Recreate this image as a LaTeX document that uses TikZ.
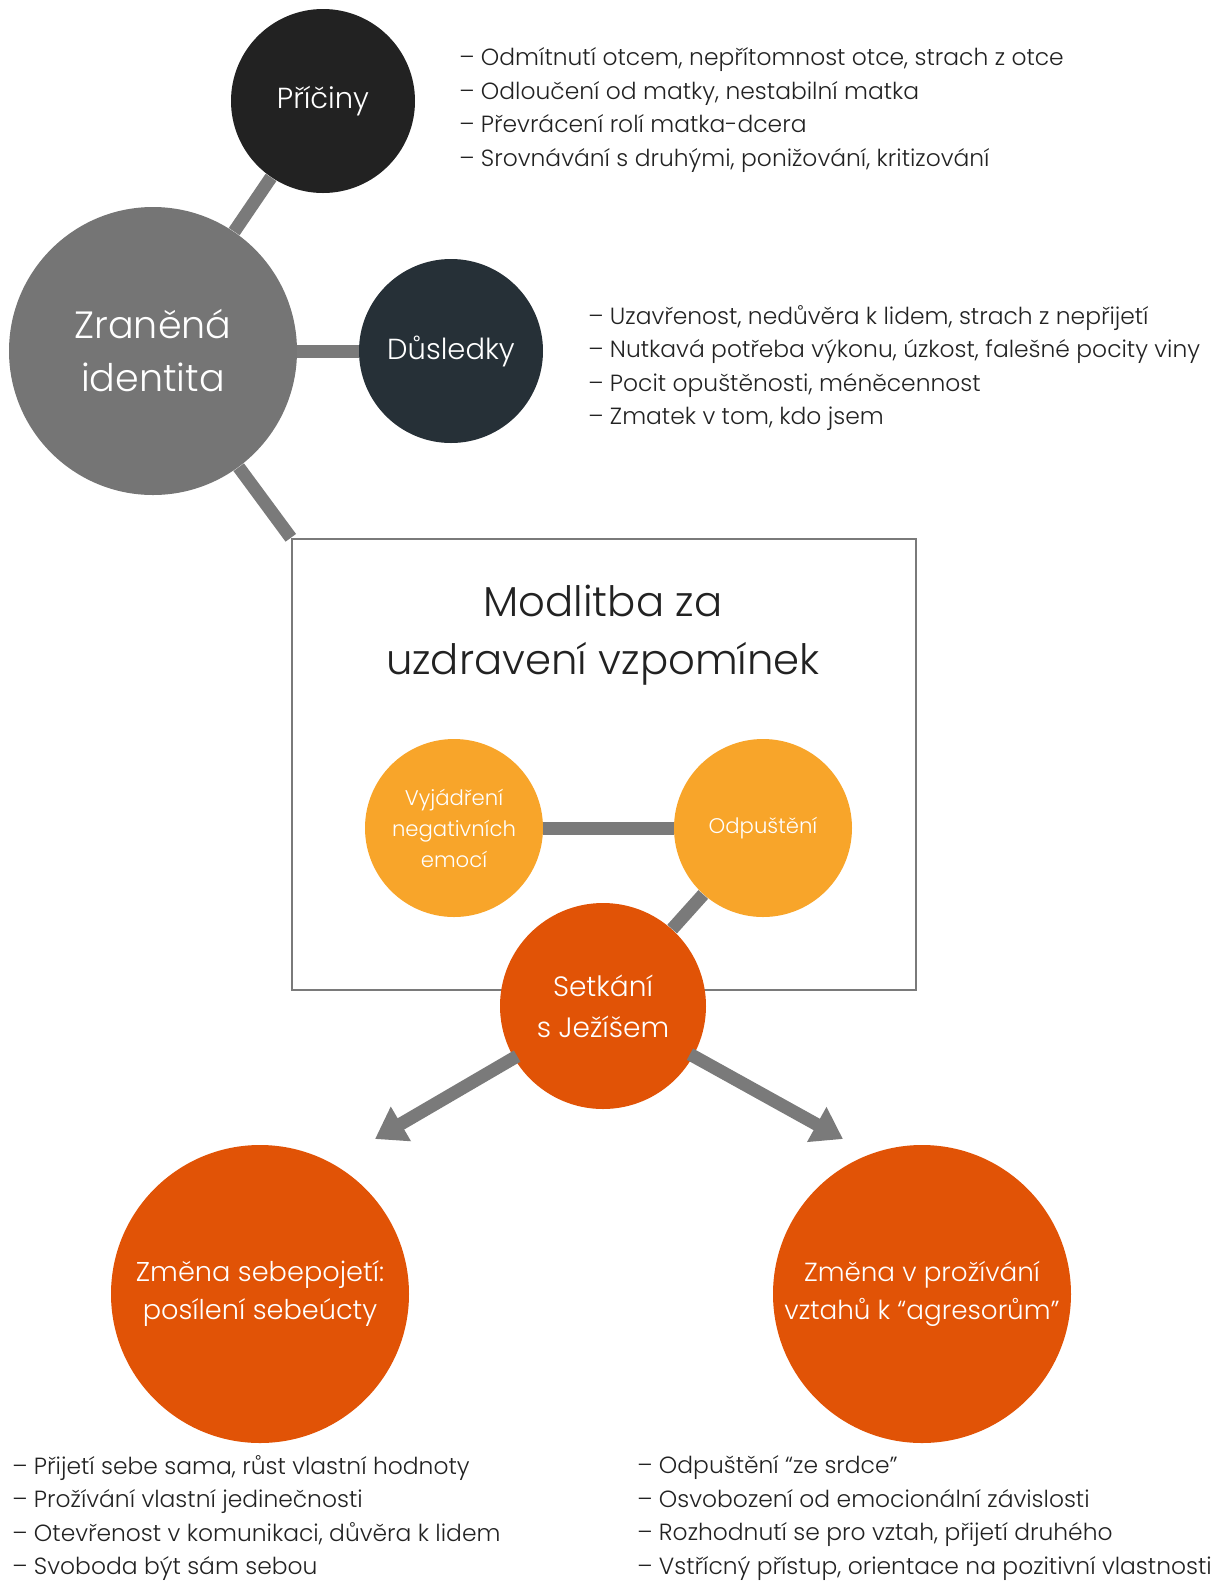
\documentclass[tikz,border=0pt]{standalone}
\usepackage{fontspec}
\setmainfont{Poppins}[UprightFont=* Light]
\usetikzlibrary{arrows.meta}
\definecolor{sedy}{HTML}{757575}
\definecolor{spojc}{HTML}{7A7A7A}
\definecolor{cerna}{HTML}{222222}
\definecolor{bridlice}{HTML}{263037}
\definecolor{zluta}{HTML}{F8A52A}
\definecolor{oranz}{HTML}{E15306}
\tikzset{>=Stealth,
 kruh/.style={circle,inner sep=0pt,align=center,text=white},
 spoj/.style={line width=6.5pt,draw=spojc},
 sip/.style={spoj,shorten <=-2pt,-{Triangle[length=15pt,width=19pt]}},
 ramec/.style={draw=spojc,line width=1.2pt,inner sep=0pt},
 seznam/.style={anchor=west,align=left,inner sep=0pt,text=cerna,font=\fontsize{11.7}{16.8}\selectfont}}

\begin{document}
\begin{tikzpicture}[x=0.5pt,y=-0.5pt]
\useasboundingbox (0,0) rectangle (1222,1581);
% uzly
\node[ramec,minimum width=312pt,minimum height=225.5pt] (modl) at (604,764.5) {};
\node[align=center,text=cerna,font=\fontsize{20.9}{29}\selectfont] (nadpis) at (603,635) {Modlitba za\\uzdravení vzpomínek};
\node[kruh,fill=sedy,minimum size=144pt,font=\fontsize{19}{26.5}\selectfont] (zran) at (153,351) {Zraněná\\identita};
\node[kruh,fill=cerna,minimum size=92pt,font=\fontsize{14.5}{18}\selectfont] (pric) at (323,101) {Příčiny};
\node[kruh,fill=bridlice,minimum size=92pt,font=\fontsize{14.5}{18}\selectfont] (dusl) at (451,351) {Důsledky};
\node[kruh,fill=zluta,minimum size=89pt,font=\fontsize{10.6}{15.5}\selectfont] (vyj) at (454,828) {Vyjádření\\negativních\\emocí};
\node[kruh,fill=zluta,minimum size=89pt,font=\fontsize{10.6}{15.5}\selectfont] (odp) at (763,828) {Odpuštění};
\node[kruh,fill=oranz,minimum size=103pt,font=\fontsize{14}{20.5}\selectfont] (setk) at (603,1006) {Setkání\\s Ježíšem};
\node[kruh,fill=oranz,minimum size=149pt,font=\fontsize{13.6}{19}\selectfont] (zmsebe) at (260,1294) {Změna sebepojetí:\\posílení sebeúcty};
\node[kruh,fill=oranz,minimum size=149pt,font=\fontsize{13.1}{19}\selectfont] (zmvzt) at (922,1294) {Změna v prožívání\\vztahů k “agresorům”};
\coordinate (hrotL) at (375,1139);
\coordinate (hrotP) at (843,1139);
% spoje
\draw[spoj] (zran) -- (pric);
\draw[spoj] (zran) -- (dusl);
\draw[spoj] (zran) -- (modl.north west);
\draw[spoj] (vyj) -- (odp);
\draw[spoj] (odp) -- (setk);
\draw[sip] (setk) -- (hrotL);
\draw[sip] (setk) -- (hrotP);
% seznamy
\node[seznam] (pricS) at (459,110) {– Odmítnutí otcem, nepřítomnost otce, strach z otce\\– Odloučení od matky, nestabilní matka\\– Převrácení rolí matka-dcera\\– Srovnávání s druhými, ponižování, kritizování};
\node[seznam] (duslS) at (588,368) {– Uzavřenost, nedůvěra k lidem, strach z nepřijetí\\– Nutkavá potřeba výkonu, úzkost, falešné pocity viny\\– Pocit opuštěnosti, méněcennost\\– Zmatek v tom, kdo jsem};
\node[seznam] (sebeS) at (12,1518) {– Přijetí sebe sama, růst vlastní hodnoty\\– Prožívání vlastní jedinečnosti\\– Otevřenost v komunikaci, důvěra k lidem\\– Svoboda být sám sebou};
\node[seznam] (vztS) at (637,1518) {– Odpuštění “ze srdce”\\– Osvobození od emocionální závislosti\\– Rozhodnutí se pro vztah, přijetí druhého\\– Vstřícný přístup, orientace na pozitivní vlastnosti};
\end{tikzpicture}
\end{document}
